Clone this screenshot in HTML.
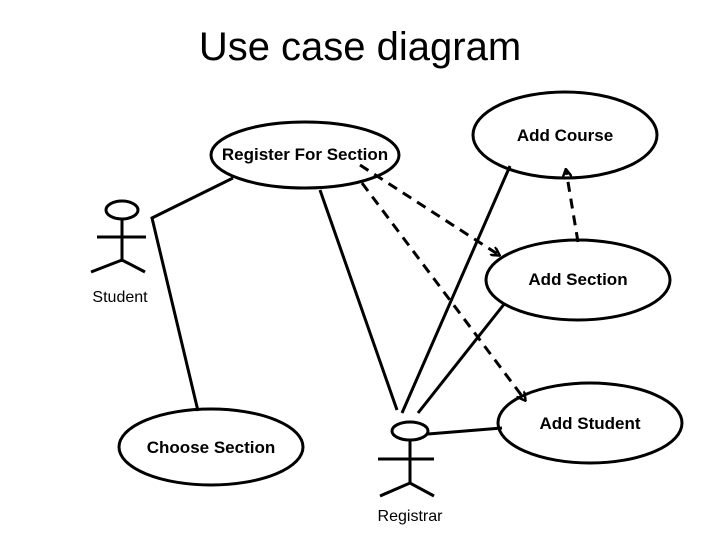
<!DOCTYPE html>
<html><head><style>
html,body{margin:0;padding:0;background:#fff;}
svg{display:block;}
text{font-family:"Liberation Sans",Arial,sans-serif;fill:#000;}
</style></head><body>
<svg width="720" height="540" viewBox="0 0 720 540" xmlns="http://www.w3.org/2000/svg">
<defs>
<marker id="a" markerWidth="10" markerHeight="10" refX="8" refY="5" orient="auto" markerUnits="userSpaceOnUse">
<path d="M0,0 L9,5 L0,10" fill="none" stroke="#000" stroke-width="2.5"/>
</marker>
</defs>
<text x="360" y="60" font-size="40" text-anchor="middle">Use case diagram</text>
<g fill="none" stroke="#000" stroke-width="3">
<ellipse cx="305" cy="155" rx="94" ry="33"/>
<ellipse cx="565" cy="135" rx="92" ry="43"/>
<ellipse cx="578" cy="280" rx="92" ry="40"/>
<ellipse cx="590" cy="423" rx="92" ry="40"/>
<ellipse cx="211" cy="447" rx="92" ry="38"/>
<ellipse cx="122" cy="210" rx="16" ry="9"/>
<line x1="122" y1="219" x2="122" y2="262"/>
<line x1="97" y1="237" x2="146" y2="237"/>
<polyline points="91,272 122,260 145,272"/>
<ellipse cx="410" cy="431" rx="18" ry="9"/>
<line x1="410" y1="440" x2="410" y2="483"/>
<line x1="378" y1="459" x2="434" y2="459"/>
<polyline points="380,496 410,483 434,496"/>
<polyline points="233,178 152,218 198,411"/>
<line x1="320" y1="190" x2="397" y2="410"/>
<line x1="402" y1="413" x2="510" y2="166"/>
<line x1="418" y1="413" x2="505" y2="303"/>
<line x1="428" y1="434" x2="502" y2="428"/>
</g>
<g fill="none" stroke="#000" stroke-width="3" stroke-dasharray="10,7">
<line x1="360" y1="165" x2="499" y2="255" marker-end="url(#a)"/>
<line x1="362" y1="183" x2="525" y2="400" marker-end="url(#a)"/>
<line x1="578" y1="242" x2="566" y2="170" marker-end="url(#a)"/>
</g>
<g font-size="17" font-weight="bold" text-anchor="middle">
<text x="305" y="160">Register For Section</text>
<text x="565" y="141">Add Course</text>
<text x="578" y="285">Add Section</text>
<text x="590" y="429">Add Student</text>
<text x="211" y="453">Choose Section</text>
</g>
<g font-size="16" text-anchor="middle">
<text x="120" y="302">Student</text>
<text x="410" y="521">Registrar</text>
</g>
</svg>
</body></html>
